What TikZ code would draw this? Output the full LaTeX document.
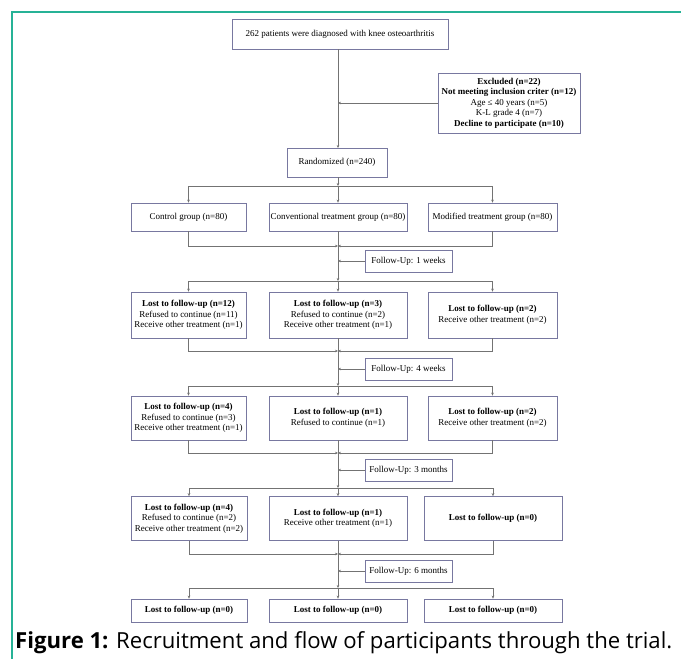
\documentclass[tikz,border=0pt]{standalone}
\usepackage{fontspec}
\setmainfont{Liberation Serif}
\newfontfamily\capfont{Open Sans}
\usetikzlibrary{arrows.meta,calc}
\definecolor{teal1}{RGB}{38,178,150}
\definecolor{boxc}{RGB}{120,120,160}
\definecolor{linec}{RGB}{115,115,115}
\begin{document}
\begin{tikzpicture}[x=1pt,y=-1pt,
  bx/.style={draw=boxc,line width=0.7pt,inner sep=0pt,align=center,font=\fontsize{9}{10.5}\selectfont},
  conn/.style={draw=linec,line width=0.7pt},
  arr/.style={conn,-{Stealth[length=3pt,width=2.6pt]}}]
\useasboundingbox (0,0) rectangle (681,659);
\fill[white] (0,0) rectangle (681,659);
% frame
\draw[teal1,line width=2pt] (11.5,659) -- (11.5,11.5) -- (681,11.5);

% boxes
\node[bx,minimum width=216,minimum height=30] (top) at (340,34) {262 patients were diagnosed with knee osteoarthritis};
\node[bx,minimum width=142,minimum height=60] (excl) at (509,103) {\textbf{Excluded (n=22)}\\\textbf{Not meeting inclusion criter (n=12)}\\Age ≤ 40 years (n=5)\\K-L grade 4 (n=7)\\\textbf{Decline to participate (n=10)}};
\node[bx,minimum width=100,minimum height=29] (rand) at (337,162.5) {Randomized (n=240)};

% row 1
\node[bx,minimum width=115,minimum height=28] (a1) at (188.5,217) {Control group (n=80)};
\node[bx,minimum width=138,minimum height=28] (b1) at (338,217) {Conventional treatment group (n=80)};
\node[bx,minimum width=129,minimum height=28] (c1) at (492.5,217) {Modified treatment group (n=80)};
% row 2
\node[bx,minimum width=115,minimum height=46] (a2) at (188.5,315) {\textbf{Lost to follow-up (n=12)}\\Refused to continue (n=11)\\Receive other treatment (n=1)};
\node[bx,minimum width=138,minimum height=46] (b2) at (338,315) {\textbf{Lost to follow-up (n=3)}\\Refused to continue (n=2)\\Receive other treatment (n=1)};
\node[bx,minimum width=129,minimum height=46] (c2) at (492.5,315) {\textbf{Lost to follow-up (n=2)}\\Receive other treatment (n=2)};
% row 3
\node[bx,minimum width=115,minimum height=44] (a3) at (188.5,418) {\textbf{Lost to follow-up (n=4)}\\Refused to continue (n=3)\\Receive other treatment (n=1)};
\node[bx,minimum width=138,minimum height=44] (b3) at (338,418) {\textbf{Lost to follow-up (n=1)}\\Refused to continue (n=1)};
\node[bx,minimum width=129,minimum height=44] (c3) at (492.5,418) {\textbf{Lost to follow-up (n=2)}\\Receive other treatment (n=2)};
% row 4
\node[bx,minimum width=116,minimum height=44] (a4) at (189,518.5) {\textbf{Lost to follow-up (n=4)}\\Refused to continue (n=2)\\Receive other treatment (n=2)};
\node[bx,minimum width=138,minimum height=44] (b4) at (338,518.5) {\textbf{Lost to follow-up (n=1)}\\Receive other treatment (n=1)};
\node[bx,minimum width=138,minimum height=44] (c4) at (493,518.5) {\textbf{Lost to follow-up (n=0)}};
% row 5
\node[bx,minimum width=116,minimum height=23] (a5) at (189,610.5) {\textbf{Lost to follow-up (n=0)}};
\node[bx,minimum width=138,minimum height=23] (b5) at (338,610.5) {\textbf{Lost to follow-up (n=0)}};
\node[bx,minimum width=138,minimum height=23] (c5) at (493,610.5) {\textbf{Lost to follow-up (n=0)}};
% follow-up boxes
\node[bx,minimum width=87,minimum height=22] (f1) at (408.5,261) {Follow-Up: 1 weeks};
\node[bx,minimum width=87,minimum height=22] (f2) at (408.5,369) {Follow-Up: 4 weeks};
\node[bx,minimum width=87,minimum height=22] (f3) at (408.5,470) {Follow-Up: 3 months};
\node[bx,minimum width=87,minimum height=22] (f4) at (408.5,571) {Follow-Up: 6 months};

% coordinates
\coordinate (s1) at (338,186);
\coordinate (j1) at (338,246);
\coordinate (s2) at (338,281);
\coordinate (j2) at (338,351);
\coordinate (s3) at (338,386);
\coordinate (j3) at (338,453);
\coordinate (s4) at (338,488);
\coordinate (j4) at (338,554);
\coordinate (s5) at (338,588);
\coordinate (t0) at (338,49);
\coordinate (t1) at (338,148);

% trunk top
\draw[arr] (t0) -- (t1);
\draw[arr] (excl.west) -- (excl.west -| t0);
\draw[arr] (t1 |- rand.south) -- (s1);

% splits
\foreach \s/\r in {s1/1,s2/2,s3/3,s4/4,s5/5}{
  \draw[conn] (a\r.north |- \s) -- (c\r.north |- \s);
  \draw[arr] (a\r.north |- \s) -- (a\r.north);
  \draw[arr] (\s) -- (b\r.north);
  \draw[arr] (c\r.north |- \s) -- (c\r.north);
}
% joins
\foreach \j/\r/\f/\n in {j1/1/f1/s2,j2/2/f2/s3,j3/3/f3/s4,j4/4/f4/s5}{
  \draw[arr] (a\r.south) |- (\j);
  \draw[arr] (c\r.south) |- (\j);
  \draw[arr] (b\r.south) -- (\n);
  \draw[arr] (\f.west) -- (\f.west -| \j);
}

% caption
\node[anchor=base west,inner sep=0pt] (cap) at (15,648) {\resizebox{657pt}{!}{\capfont\textbf{Figure 1:} Recruitment and flow of participants through the trial.}};
\end{tikzpicture}
\end{document}
